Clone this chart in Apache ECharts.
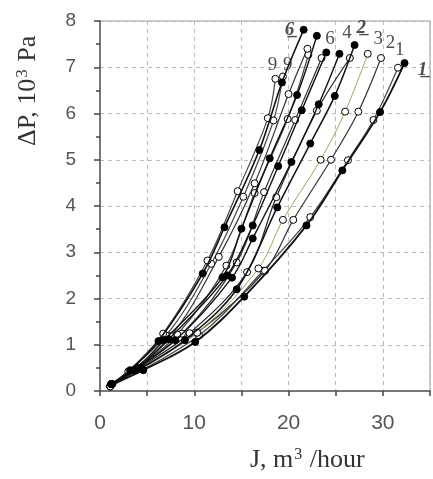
<!DOCTYPE html>
<html><head><meta charset="utf-8">
<script src="https://cdn.jsdelivr.net/npm/echarts@6/dist/echarts.min.js"></script>
<style>html,body{margin:0;padding:0;background:#fff}#c{width:433px;height:479px}</style>
</head><body><div id="c"></div>
<script>
// Curves: [J, dP] pairs
var c9a = [[1.1,0.1],[3.0,0.42],[6.7,1.24],[11.4,2.82],[14.6,4.32],[17.8,5.9],[18.6,6.75]];
var c9b = [[1.1,0.12],[7.0,1.2],[11.8,2.75],[15.2,4.2],[18.4,5.85],[19.4,6.8]];
var c6u = [[1.2,0.15],[3.2,0.45],[6.2,1.08],[10.9,2.54],[13.2,3.54],[16.9,5.21],[19.3,6.67],[21.6,7.81]];
var cO4 = [[1.1,0.1],[7.5,1.19],[12.6,2.9],[16.4,4.49],[20.0,6.42],[22.0,7.4]];
var cO5 = [[1.1,0.1],[3.8,0.48],[8.2,1.22],[13.4,2.71],[16.4,4.28],[19.9,5.88],[22.1,7.27]];
var c6 = [[1.2,0.15],[3.6,0.45],[6.8,1.1],[13.0,2.46],[15.0,3.51],[18.0,5.03],[20.9,6.4],[23.0,7.68]];
var cO7 = [[1.1,0.1],[8.7,1.24],[14.5,2.78],[17.4,4.3],[20.7,5.86],[23.5,7.2]];
var cF8 = [[1.2,0.15],[4.0,0.5],[7.3,1.12],[13.5,2.5],[16.2,3.58],[18.9,4.86],[21.4,6.07],[24.0,7.32]];
var cF9 = [[1.2,0.15],[8.0,1.1],[14.0,2.45],[16.2,3.3],[20.3,4.95],[23.2,6.2],[25.4,7.29]];
var c4 = [[1.1,0.1],[4.2,0.5],[9.5,1.25],[15.6,2.57],[18.7,4.19],[23.0,6.06],[26.5,7.2]];
var c2u = [[1.2,0.15],[4.4,0.5],[9.0,1.1],[14.5,2.2],[18.8,3.97],[22.3,5.35],[24.9,6.38],[27.0,7.48]];
var c3 = [[1.1,0.1],[10.3,1.26],[16.8,2.65],[19.4,3.7],[23.4,5.0],[26.0,6.04],[28.4,7.29]];
var c2 = [[1.1,0.1],[10.3,1.26],[17.5,2.6],[20.5,3.7],[24.5,5.0],[27.4,6.04],[29.8,7.2]];
var c1 = [[1.1,0.1],[10.5,1.2],[17.3,2.6],[22.3,3.76],[26.3,4.99],[29.0,5.86],[31.6,6.99]];
var c1u = [[1.3,0.15],[4.6,0.45],[10.1,1.06],[15.3,2.04],[21.9,3.58],[25.7,4.77],[29.7,6.03],[32.3,7.09]];

// Curve labels
var labelText = ['6\u0332', '9', '9', '6', '4', '2\u0332', '3', '2', '1', '1\u0332'];
var labelPos = [[20.1,7.81],[18.3,7.05],[19.9,7.05],[24.4,7.6],[26.2,7.75],[27.7,7.85],[29.5,7.6],[30.8,7.53],[31.8,7.38],[34.2,6.94]];
var labelBold = [true,false,false,false,false,true,false,false,false,true];

var xTicks = ['0','10','20','30'];

var curves = [
  {d:c1u, filled:true, color:'#111', w:1.8},
  {d:c1, filled:false, color:'#444', w:1.2},
  {d:c2, filled:false, color:'#333', w:1.2},
  {d:c3, filled:false, color:'#a8a060', w:1},
  {d:c2u, filled:true, color:'#111', w:1.5},
  {d:c4, filled:false, color:'#222', w:1.2},
  {d:cF9, filled:true, color:'#111', w:1.4},
  {d:cF8, filled:true, color:'#111', w:1.4},
  {d:cO7, filled:false, color:'#333', w:1.2},
  {d:c6, filled:true, color:'#111', w:1.4},
  {d:cO5, filled:false, color:'#444', w:1.2},
  {d:cO4, filled:false, color:'#333', w:1.2},
  {d:c6u, filled:true, color:'#111', w:1.6},
  {d:c9b, filled:false, color:'#444', w:1.2},
  {d:c9a, filled:false, color:'#444', w:1.2}
];

var series = curves.map(function(c){
  return {
    type:'line', data:c.d, smooth:0.35, symbol:'circle', symbolSize:7,
    lineStyle:{color:c.color, width:c.w},
    itemStyle:{color:c.filled ? '#000' : '#fff', borderColor:'#000', borderWidth:1},
    emphasis:{disabled:true}, z:c.filled?3:2, animation:false
  };
});

series.push({
  type:'scatter', symbolSize:0, animation:false, silent:true, z:5,
  data: labelText.map(function(t,i){
    return {value:labelPos[i], label:{show:true, formatter:t, position:'inside',
      fontFamily:'Liberation Serif', fontSize:19, color:'#222',
      fontWeight: labelBold[i] ? 'bold' : 'normal',
      fontStyle: labelBold[i] ? 'italic' : 'normal'}};
  })
});

var chart = echarts.init(document.getElementById('c'));
chart.setOption({
  backgroundColor:'#fff',
  animation:false,
  grid:{left:100, top:21, right:2, bottom:88, show:true, borderColor:'#999', borderWidth:1},
  xAxis:{type:'value', min:0, max:35, interval:5,
    axisLine:{show:true, onZero:false, lineStyle:{color:'#777', width:2}},
    axisTick:{show:true, length:5, lineStyle:{color:'#444', width:1.5}},
    axisLabel:{margin:22, fontFamily:'Liberation Sans', fontSize:21, color:'#555',
      formatter:function(v){ var s=String(v); return xTicks.indexOf(s)>=0 ? s : ''; }},
    splitLine:{show:true, lineStyle:{color:'#bbb', type:[4,4], width:1}}
  },
  yAxis:{type:'value', min:0, max:8, interval:1,
    axisLine:{show:true, lineStyle:{color:'#777', width:2}},
    axisTick:{show:true, length:6, lineStyle:{color:'#444', width:1.5}},
    minorTick:{show:true, splitNumber:2, length:4, lineStyle:{color:'#444', width:1.5}},
    axisLabel:{margin:24, fontFamily:'Liberation Sans', fontSize:19, color:'#555'},
    splitLine:{show:true, lineStyle:{color:'#bbb', type:[4,4], width:1}}
  },
  graphic:[
    {type:'text', x:14, y:146, rotation:Math.PI/2,
      style:{text:'{a|\u0394P, 10}{s|3}{a| Pa}', verticalAlign:'top', align:'left',
        rich:{a:{fontFamily:'Liberation Serif', fontSize:26, fill:'#333', color:'#333', verticalAlign:'bottom'},
              s:{fontFamily:'Liberation Serif', fontSize:17, fill:'#333', color:'#333', verticalAlign:'top', padding:[0,1,10,1]}}}},
    {type:'text', x:250, y:447,
      style:{text:'{a|J, m}{s|3}{a| /hour}', verticalAlign:'top', align:'left',
        rich:{a:{fontFamily:'Liberation Serif', fontSize:26, fill:'#333', color:'#333', verticalAlign:'bottom'},
              s:{fontFamily:'Liberation Serif', fontSize:16, fill:'#333', color:'#333', verticalAlign:'top', padding:[0,1,10,1]}}}}
  ],
  series:series
});
</script></body></html>
